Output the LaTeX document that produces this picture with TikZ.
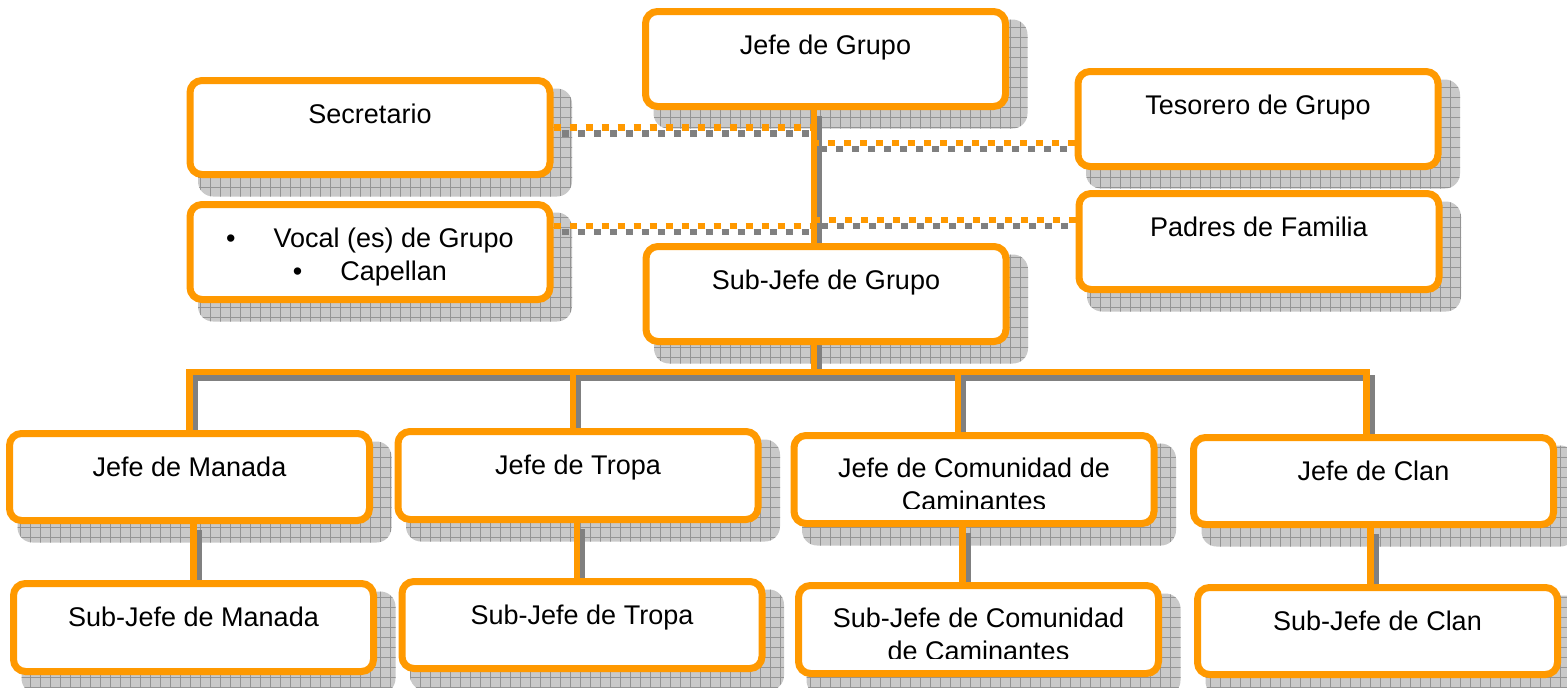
\documentclass[tikz,border=0pt]{standalone}
\usepackage{fontspec}
\setmainfont{Liberation Sans}
\usetikzlibrary{positioning,backgrounds,patterns.meta}

\definecolor{boxorange}{HTML}{FF9900}
\definecolor{linkgray}{HTML}{808080}

\tikzset{
  box/.style={draw=boxorange, fill=white, line width=7pt, rounded corners=12pt,
    minimum width=360pt, inner sep=0pt},
  lbl/.style={font=\fontsize{27}{33}\selectfont, align=center, inner sep=0pt},
  shade/.style={fill=black!21, rounded corners=15pt,
    postaction={pattern={Hatch[distance=10pt, line width=1pt]}, pattern color=black!42}},
  link/.style={draw=boxorange, line width=6.5pt,
    preaction={draw=linkgray, line width=6.5pt, transform canvas={shift={(5pt,-6pt)}}}},
  dotlink/.style={draw=boxorange, line width=6.5pt, dash pattern=on 7pt off 9pt,
    preaction={draw=linkgray, line width=6.5pt, dash pattern=on 7pt off 9pt,
      transform canvas={shift={(8pt,-6pt)}}}},
}

\begin{document}
\begin{tikzpicture}[x=1pt, y=-1pt]
    \useasboundingbox (0,0) rectangle (1567,688);

    \foreach \name/\x/\y/\h in {grupo/825.5/59/95, secretario/370/127.5/94,
      tesorero/1258/119/95, vocal/370/252/95, padres/1259/241.5/96,
      subgrupo/826/294/95,
      manada/189.5/477/87, tropa/578/475.5/88, comunidad/974/479.5/88,
      clan/1373.5/481/87,
      submanada/193.5/627.5/88, subtropa/582/625/87,
      subcomunidad/978.5/629.5/88, subclan/1377.5/631/87} {
      \node[box, minimum height=\h pt] (\name) at (\x,\y) {};
    }

    \foreach \name/\text in {grupo/Jefe de Grupo, secretario/Secretario,
      tesorero/Tesorero de Grupo, padres/Padres de Familia,
      subgrupo/Sub-Jefe de Grupo,
      manada/Jefe de Manada, tropa/Jefe de Tropa, clan/Jefe de Clan,
      submanada/Sub-Jefe de Manada, subtropa/Sub-Jefe de Tropa,
      subclan/Sub-Jefe de Clan} {
      \node[lbl, below=27pt of \name.north] (\name-txt) {\text};
    }
    \node[lbl, below=27pt of vocal.north] (vocal-txt)
      {\textbullet\hspace{38pt}Vocal (es) de Grupo\\
       \textbullet\hspace{38pt}Capellan};

    % second lines are cut off by the box
    \begin{scope}
      \clip (comunidad.north west) rectangle ([yshift=-76pt]comunidad.north east);
      \node[lbl, below=26pt of comunidad.north] (comunidad-txt)
        {Jefe de Comunidad de\\Caminantes};
    \end{scope}
    \begin{scope}
      \clip (subcomunidad.north west) rectangle ([yshift=-76pt]subcomunidad.north east);
      \node[lbl, below=26pt of subcomunidad.north] (subcomunidad-txt)
        {Sub-Jefe de Comunidad\\de Caminantes};
    \end{scope}

    \begin{scope}[on background layer]
      \foreach \name in {grupo, secretario, tesorero, vocal, padres, subgrupo,
        manada, tropa, comunidad, clan,
        submanada, subtropa, subcomunidad, subclan} {
        \fill[shade] ([shift={(11.5pt,-18.5pt)}]\name.south west)
          rectangle ([shift={(18.5pt,-11.5pt)}]\name.north east);
      }

      \coordinate (trunk) at (814,372);
      \draw[link] (grupo.south -| trunk) -- (trunk);
      \draw[link] (manada.north) |- ([xshift=-7pt]clan.north |- trunk)
        -- ([xshift=-7pt]clan.north);
      \draw[link] ([xshift=-5pt]tropa.north |- trunk) -- ([xshift=-5pt]tropa.north);
      \draw[link] ([xshift=-16pt]comunidad.north |- trunk)
        -- ([xshift=-16pt]comunidad.north);

      \foreach \j/\s/\dx in {manada/submanada/0, tropa/subtropa/-5,
        comunidad/subcomunidad/-16, clan/subclan/-7} {
        \draw[link] ([xshift=\dx pt]\s.north |- \j.south) -- ([xshift=\dx pt]\s.north);
      }

      \draw[dotlink] (secretario.east) -- (secretario.east -| trunk);
      \draw[dotlink] ([yshift=26pt]vocal.east) -- ([yshift=26pt]vocal.east -| trunk);
      \draw[dotlink] ([yshift=-24pt]tesorero.west) -- ([yshift=-24pt]tesorero.west -| trunk);
      \draw[dotlink] ([yshift=21.5pt]padres.west) -- ([yshift=21.5pt]padres.west -| trunk);
    \end{scope}
  \end{tikzpicture}
\end{document}
